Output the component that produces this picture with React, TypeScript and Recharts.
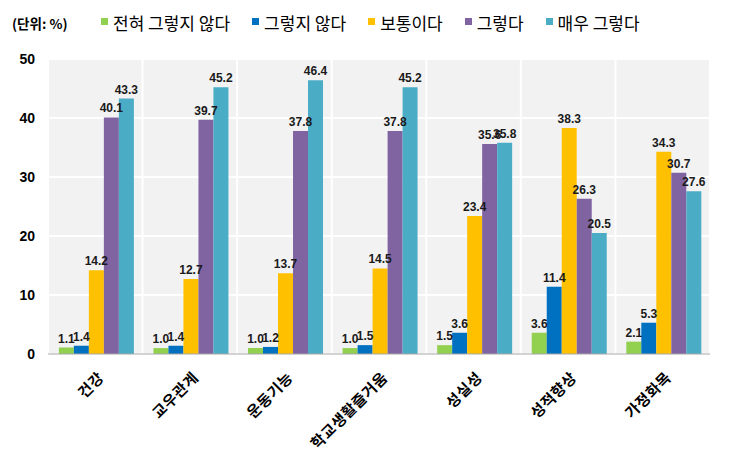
import { Bar, BarChart, CartesianGrid, LabelList, XAxis, YAxis } from "recharts";

const categories = ["건강", "교우관계", "운동기능", "학교생활즐거움", "성실성", "성적향상", "가정화목"];
const seriesNames = ["전혀 그렇지 않다", "그렇지 않다", "보통이다", "그렇다", "매우 그렇다"];
const seriesColors = ["#92d050", "#0070c0", "#ffc000", "#8064a2", "#4bacc6"];

const notAtAll = [1.1, 1.0, 1.0, 1.0, 1.5, 3.6, 2.1];
const notSo = [1.4, 1.4, 1.2, 1.5, 3.6, 11.4, 5.3];
const neutral = [14.2, 12.7, 13.7, 14.5, 23.4, 38.3, 34.3];
const agree = [40.1, 39.7, 37.8, 37.8, 35.6, 26.3, 30.7];
const stronglyAgree = [43.3, 45.2, 46.4, 45.2, 35.8, 20.5, 27.6];
const yTicks = [0, 10, 20, 30, 40, 50];

const seriesValues = [notAtAll, notSo, neutral, agree, stronglyAgree];
const keys = ["s0", "s1", "s2", "s3", "s4"];

const data = categories.map((name, i) => {
  const row: Record<string, string | number> = { name };
  seriesValues.forEach((vals, j) => {
    row[keys[j]] = vals[i];
  });
  return row;
});

const FONT = "'Noto Sans CJK KR', 'Liberation Sans', sans-serif";
const NUM_FONT = "'Liberation Sans', 'Noto Sans CJK KR', sans-serif";

function CategoryTick({ x, y, payload }: any) {
  const ax = x + 5;
  const ay = y + 12;
  return (
    <text
      x={ax}
      y={ay}
      transform={`rotate(-45 ${ax} ${ay})`}
      textAnchor="end"
      dominantBaseline="central"
      fontFamily={FONT}
      fontSize={15}
      fontWeight={700}
      letterSpacing={0.6}
      fill="#000"
    >
      {payload.value}
    </text>
  );
}

function Legend() {
  return (
    <>
      <div
        style={{
          position: "absolute",
          left: 12,
          top: 14,
          fontFamily: FONT,
          fontSize: 13.5,
          fontWeight: 600,
          lineHeight: "18px",
          whiteSpace: "nowrap",
        }}
      >
        (단위: %)
      </div>
      <div
        style={{
          position: "absolute",
          left: 101,
          top: 12,
          display: "flex",
          alignItems: "center",
          fontFamily: FONT,
          whiteSpace: "nowrap",
          height: 22,
        }}
      >
        {seriesNames.map((n, i) => (
          <span key={n} style={{ display: "flex", alignItems: "center", marginRight: 22 }}>
            <span
              style={{
                width: 7,
                height: 7,
                background: seriesColors[i],
                marginRight: 5,
                marginTop: -3,
                display: "inline-block",
              }}
            />
            <span style={{ fontSize: 17, lineHeight: "22px" }}>{n}</span>
          </span>
        ))}
      </div>
    </>
  );
}

export default function App() {
  return (
    <div style={{ position: "absolute", left: 0, top: 0, width: 742, height: 454, background: "#fff" }}>
      <Legend />
      <BarChart
        width={742}
        height={454}
        data={data}
        margin={{ top: 59, right: 32, left: 0, bottom: 0 }}
        barCategoryGap="11.5%"
        barGap={0}
      >
        <CartesianGrid
          fill="#f2f2f2"
          stroke="#ffffff"
          strokeWidth={2}
          verticalCoordinatesGenerator={({ offset }: any) =>
            categories.map((_, i) => offset.left + (i * offset.width) / categories.length).concat(offset.left + offset.width)
          }
        />
        <XAxis
          dataKey="name"
          height={100}
          interval={0}
          tickLine={false}
          axisLine={{ stroke: "#a6a6a6" }}
          tick={<CategoryTick />}
        />
        <YAxis
          width={48}
          domain={[0, 50]}
          ticks={yTicks}
          axisLine={false}
          tickLine={false}
          tickSize={0}
          tickMargin={13}
          tick={{ fontFamily: NUM_FONT, fontSize: 14, fontWeight: 700, fill: "#000" }}
        />
        {keys.map((k, j) => (
          <Bar key={k} dataKey={k} name={seriesNames[j]} fill={seriesColors[j]} isAnimationActive={false}>
            <LabelList
              dataKey={k}
              position="top"
              offset={5}
              formatter={(v: any) => Number(v).toFixed(1)}
              style={{ fontFamily: NUM_FONT, fontSize: 12, fontWeight: 700, fill: "#1a1a1a" }}
            />
          </Bar>
        ))}
      </BarChart>
    </div>
  );
}
